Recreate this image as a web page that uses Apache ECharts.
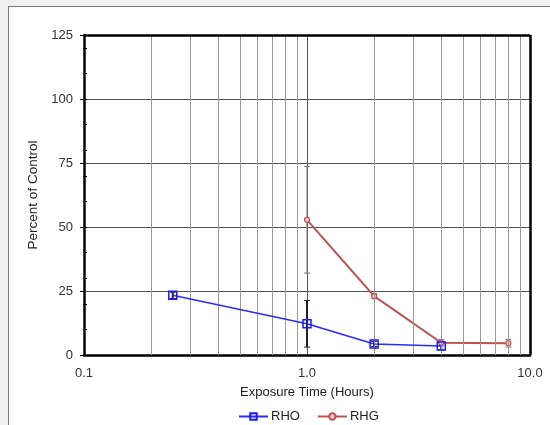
<!DOCTYPE html>
<html>
<head>
<meta charset="utf-8">
<script src="https://cdn.jsdelivr.net/npm/echarts@6/dist/echarts.min.js"></script>
<style>
html,body{margin:0;padding:0;background:#f0f0f0;width:550px;height:425px;overflow:hidden;}
#frame{position:absolute;left:8px;top:6px;width:545px;height:430px;background:#fff;border-left:1px solid #7a7a7a;border-top:1px solid #7a7a7a;}
#chart{position:absolute;left:0;top:0;width:550px;height:425px;}
</style>
</head>
<body>
<div id="frame"></div>
<div id="chart"></div>
<script>
// Data
const rhoX = [0.25, 1, 2, 4];
const rhoY = [23.3, 12.2, 4.3, 3.5];
const rhoErr = [1.2, 9.1, 1.0, 1.5];
const rhgX = [1, 2, 4, 8];
const rhgY = [52.8, 23.0, 4.8, 4.6];
const rhgErr = [20.8, 1.0, 1.2, 1.5];
const xTickLabels = ['0.1', '1.0', '10.0'];
const yTicks = [0, 25, 50, 75, 100, 125];
const minorGridX = [0.2,0.3,0.4,0.5,0.6,0.7,0.8,0.9,2,3,4,5,6,7,8,9];

const rhoData = rhoX.map((x, i) => [x, rhoY[i], rhoErr[i]]);
const rhgData = rhgX.map((x, i) => [x, rhgY[i], rhgErr[i]]);

function errRender(color, width, cap) {
  return function (params, api) {
    const x = api.value(0), y = api.value(1), e = api.value(2);
    const top = api.coord([x, y + e]);
    const bot = api.coord([x, y - e]);
    return {
      type: 'group',
      children: [
        {type: 'line', shape: {x1: top[0], y1: top[1], x2: bot[0], y2: bot[1]}, style: {stroke: color, lineWidth: width}},
        {type: 'line', shape: {x1: top[0] - cap, y1: top[1], x2: top[0] + cap, y2: top[1]}, style: {stroke: color, lineWidth: 1}},
        {type: 'line', shape: {x1: bot[0] - cap, y1: bot[1], x2: bot[0] + cap, y2: bot[1]}, style: {stroke: color, lineWidth: 1}}
      ]
    };
  };
}

const chart = echarts.init(document.getElementById('chart'), null, {renderer: 'canvas'});
const font = 'Liberation Sans, Arial, sans-serif';
chart.setOption({
  backgroundColor: 'transparent',
  animation: false,
  textStyle: {fontFamily: font},
  grid: {left: 84, right: 20, top: 35, bottom: 70},
  legend: {
    top: 405, left: 233,
    data: ['RHO', 'RHG'],
    itemWidth: 29, itemHeight: 8, itemGap: 17,
    textStyle: {fontFamily: font, fontSize: 13, color: '#222', padding: [0, 0, 0, -2]}
  },
  xAxis: {
    type: 'log', logBase: 10, min: 0.1, max: 10,
    name: 'Exposure Time (Hours)', nameLocation: 'middle', nameGap: 31,
    nameTextStyle: {fontFamily: font, fontSize: 13, color: '#222'},
    axisLine: {show: true, lineStyle: {color: '#000', width: 2.5}},
    axisTick: {show: false},
    axisLabel: {fontFamily: font, fontSize: 13, color: '#333', margin: 12,
      formatter: function (v) { return v < 0.5 ? xTickLabels[0] : (v < 5 ? xTickLabels[1] : xTickLabels[2]); }},
    splitLine: {show: true, lineStyle: {color: '#555', width: 1}}
  },
  yAxis: [{
    type: 'value', min: 0, max: 125, interval: 25,
    name: 'Percent of Control', nameLocation: 'middle', nameGap: 36,
    nameTextStyle: {fontFamily: font, fontSize: 13.5, color: '#222'},
    axisLine: {show: true, lineStyle: {color: '#000', width: 2.5}},
    axisTick: {show: true, inside: false, length: 4, lineStyle: {color: '#000'}},
    axisLabel: {fontFamily: font, fontSize: 13, color: '#333', margin: 11,
      formatter: function (v) { return yTicks.indexOf(v) >= 0 ? String(v) : ''; }},
    splitLine: {show: true, lineStyle: {color: '#555', width: 1}}
  }, {
    type: 'value', min: 0, max: 125, interval: 10, position: 'left',
    axisLine: {show: false},
    axisTick: {show: true, inside: true, length: 3, lineStyle: {color: '#000'}},
    axisLabel: {show: false},
    splitLine: {show: false}
  }],
  series: [
    {
      name: 'grid', type: 'line', data: [], silent: true,
      markLine: {
        silent: true, symbol: 'none', label: {show: false},
        lineStyle: {color: '#999', width: 1, type: 'solid'},
        data: minorGridX.map(v => ({xAxis: v}))
      }
    },
    {
      name: 'border', type: 'line', data: [], silent: true,
      markLine: {
        silent: true, symbol: 'none', label: {show: false},
        lineStyle: {color: '#000', width: 2.5, type: 'solid'},
        data: [{xAxis: 10}, {yAxis: 125}]
      }
    },
    {
      type: 'custom', name: 'rhgErr', data: rhgData, z: 3,
      renderItem: errRender('#777', 1, 3), encode: {x: 0, y: 1}
    },
    {
      type: 'custom', name: 'rhoErr', data: rhoData, z: 3,
      renderItem: errRender('#222', 2, 3), encode: {x: 0, y: 1}
    },
    {
      name: 'RHG', type: 'line', data: rhgData.map(d => [d[0], d[1]]), z: 4,
      symbol: 'circle', symbolSize: 5, showSymbol: true,
      itemStyle: {color: '#f4d0d0', borderColor: '#c0504d', borderWidth: 1.2},
      lineStyle: {color: '#c0504d', width: 2}
    },
    {
      name: 'RHO', type: 'line', data: rhoData.map(d => [d[0], d[1]]), z: 5,
      symbol: 'rect', symbolSize: 8, showSymbol: true,
      itemStyle: {color: 'rgba(255,255,255,0)', borderColor: '#1a1aff', borderWidth: 1.5},
      lineStyle: {color: '#2a2aff', width: 1.5}
    }
  ]
});
</script>
</body>
</html>
